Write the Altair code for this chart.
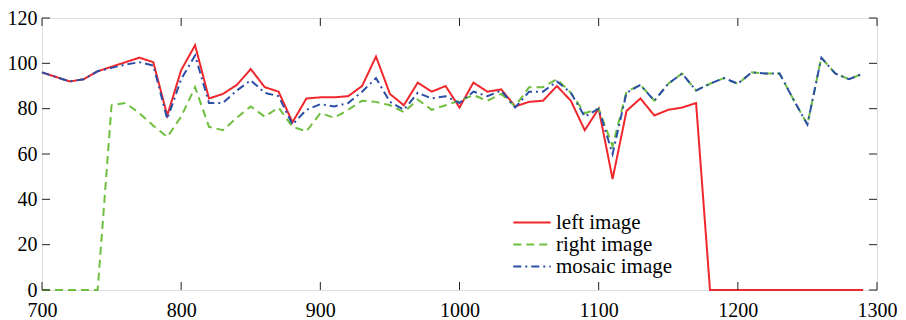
import altair as alt
import pandas as pd

x_vals = list(range(700, 1300, 10))

left_image = [96, 94, 92, 93, 96.5, 98.5, 100.5, 102.5, 100.5, 77,
              97, 108, 84.5, 86.5, 90.5, 97.5, 89.5, 87.5, 74, 84.5,
              85, 85, 85.5, 90, 103, 86.5, 81.5, 91.5, 87.5, 90,
              80.5, 91.5, 87.5, 88.5, 81, 83, 83.5, 90, 83.5, 70.5,
              80, 49, 79, 84.5, 77, 79.5, 80.5, 82.5, 0, 0,
              0, 0, 0, 0, 0, 0, 0, 0, 0, 0]

right_image = [0, 0, 0, 0, 0, 81.5, 82.5, 78, 72.5, 67.5,
               76.5, 89.5, 72, 70.5, 76, 81, 76.5, 80.5, 72, 70,
               78, 76, 79.5, 83.5, 83, 81.5, 78.5, 84, 79.5, 81.5,
               83.5, 86, 83.5, 86.5, 81, 89.5, 89.5, 93, 87, 78,
               80, 63.5, 87.5, 90.5, 83.5, 91, 95.5, 88, 91, 93.5,
               91, 96, 95.5, 95.5, 84, 73, 102.5, 95.5, 93, 95.5]

mosaic_image = [96, 94, 92, 93, 96.5, 98, 99.5, 100.5, 99, 75.5,
                93, 103.5, 82.5, 82.5, 88, 92.5, 87, 85.5, 73, 79.5,
                82, 81, 82.5, 87.5, 93.5, 83, 79.5, 87, 84.5, 85.5,
                82.5, 87.5, 85.5, 88, 80.5, 87.5, 87.5, 92, 87, 76.5,
                80, 60, 87, 90.5, 83.5, 91, 95.5, 88, 91, 93.5,
                91, 96, 95.5, 95.5, 84, 73, 102.5, 95.5, 93, 95.5]

series_names = ["left image", "right image", "mosaic image"]
series_colors = ["#f0282d", "#6fbf3f", "#2b4ea6"]
series_dashes = [[1, 0], [8, 5], [8, 4, 2, 4]]

x_ticks = [700, 800, 900, 1000, 1100, 1200, 1300]
y_ticks = [0, 20, 40, 60, 80, 100, 120]

rows = []
for name, vals in zip(series_names, [left_image, right_image, mosaic_image]):
    for xv, yv in zip(x_vals, vals):
        rows.append({"series": name, "x": xv, "y": yv})
df = pd.DataFrame(rows)

W, H = 835, 272
FONT = "Liberation Serif, DejaVu Serif, serif"

xscale = alt.Scale(domain=[700, 1300], nice=False)
yscale = alt.Scale(domain=[0, 120], nice=False)

legend_opts = dict(title=None, orient="none", legendX=470, legendY=194,
                   symbolType="stroke", symbolSize=1400, symbolStrokeWidth=2,
                   labelFont=FONT, labelFontSize=21, labelColor="black",
                   clipHeight=21, rowPadding=0, labelOffset=4)

color = alt.Color("series:N", scale=alt.Scale(domain=series_names, range=series_colors),
                  legend=alt.Legend(**legend_opts))
dash = alt.StrokeDash("series:N", scale=alt.Scale(domain=series_names, range=series_dashes),
                      legend=alt.Legend(**legend_opts))

layers = []
for name in series_names:
    layers.append(
        alt.Chart(df).transform_filter(alt.datum.series == name)
        .mark_line(strokeWidth=2)
        .encode(
            x=alt.X("x:Q", scale=xscale,
                    axis=alt.Axis(values=x_ticks, title=None, grid=False, ticks=False, domain=False,
                                  labelFont=FONT, labelFontSize=20, labelColor="black",
                                  labelPadding=10, format="d", labelFlush=False,
                                  labelOverlap=False)),
            y=alt.Y("y:Q", scale=yscale,
                    axis=alt.Axis(values=y_ticks, title=None, grid=False, ticks=False, domain=False,
                                  labelFont=FONT, labelFontSize=20, labelColor="black",
                                  labelPadding=5, labelFlush=False, labelOverlap=False)),
            color=color,
            strokeDash=dash,
        )
    )

xt = pd.DataFrame({"t": x_ticks})
yt = pd.DataFrame({"t": y_ticks})
tick_style = dict(color="#222222", strokeWidth=1)
bottom_ticks = alt.Chart(xt).mark_rule(**tick_style).encode(
    x=alt.X("t:Q", scale=xscale), y=alt.value(H), y2=alt.value(H - 8))
top_ticks = alt.Chart(xt).mark_rule(**tick_style).encode(
    x=alt.X("t:Q", scale=xscale), y=alt.value(0), y2=alt.value(8))
left_ticks = alt.Chart(yt).mark_rule(**tick_style).encode(
    y=alt.Y("t:Q", scale=yscale), x=alt.value(0), x2=alt.value(8))
right_ticks = alt.Chart(yt).mark_rule(**tick_style).encode(
    y=alt.Y("t:Q", scale=yscale), x=alt.value(W), x2=alt.value(W - 8))

chart = alt.layer(*layers, bottom_ticks, top_ticks, left_ticks, right_ticks).properties(
    width=W, height=H,
    autosize=alt.AutoSizeParams(type="none"),
    padding={"left": 34, "top": 10, "right": 20, "bottom": 30},
).configure_view(stroke="#222222", strokeWidth=1.2).configure(background="white")

chart.save("out.html", embed_options={"renderer": "svg", "actions": False})
